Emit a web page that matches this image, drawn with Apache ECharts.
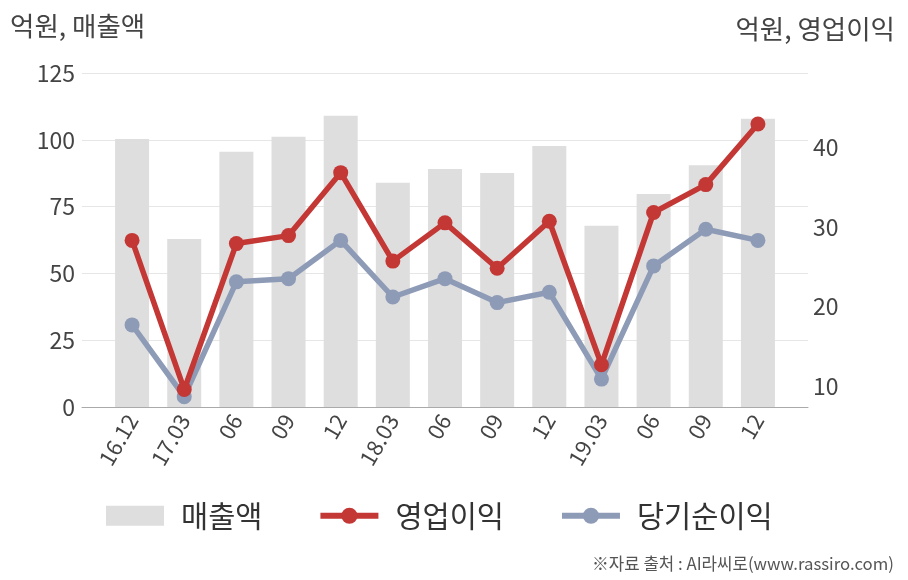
<!DOCTYPE html>
<html><head><meta charset="utf-8">
<script src="https://cdn.jsdelivr.net/npm/echarts@6/dist/echarts.min.js"></script>
<style>html,body{margin:0;padding:0;background:#fff}#c{width:908px;height:580px}</style>
</head><body><div id="c"></div>
<script>
const categories = ['16.12','17.03','06','09','12','18.03','06','09','12','19.03','06','09','12'];
const sales = [100.3, 62.9, 95.5, 101.1, 109, 83.9, 89.1, 87.6, 97.7, 67.8, 79.7, 90.5, 107.9];
const opProfit = [28.3, 9.6, 27.9, 28.9, 36.8, 25.7, 30.5, 24.8, 30.7, 12.7, 31.8, 35.3, 42.9];
const netProfit = [17.7, 8.7, 23.1, 23.5, 28.3, 21.2, 23.5, 20.5, 21.8, 10.9, 25.1, 29.7, 28.3];
const leftTicks = [0, 25, 50, 75, 100, 125];
const rightTicks = [10, 20, 30, 40];

const FONT = '"Noto Sans CJK KR", "Noto Sans", sans-serif';
const RED = '#c33735', BLUE = '#8e9bb7';
const pair = arr => arr.map((v, i) => [i, v]);
const chart = echarts.init(document.getElementById('c'));
chart.setOption({
  animation: false,
  textStyle: { fontFamily: FONT },
  grid: { left: 82, right: 100, top: 73, bottom: 173 },
  graphic: [
    { type: 'text', left: 10, top: 13, style: { text: '억원, 매출액', font: '26.5px ' + FONT, fill: '#444' } },
    { type: 'text', right: 13, top: 16, style: { text: '억원, 영업이익', font: '26.5px ' + FONT, fill: '#444' } },
    { type: 'text', right: 14, top: 555, style: { text: '※자료 출처 : AI라씨로(www.rassiro.com)', font: '16.8px ' + FONT, fill: '#555' } }
  ],
  legend: {
    left: 101, top: 496, itemWidth: 58, itemHeight: 20, itemGap: 55,
    textStyle: { fontSize: 29.5, color: '#333', fontFamily: FONT, padding: [0, 0, 0, 12] },
    data: [
      { name: '매출액', icon: 'rect' },
      { name: '영업이익', lineStyle: { width: 6 }, itemStyle: { color: RED } },
      { name: '당기순이익', lineStyle: { width: 6 }, itemStyle: { color: BLUE } }
    ]
  },
  xAxis: {
    type: 'value', min: -0.96, max: 12.96,
    splitLine: { show: false },
    axisTick: { show: false },
    axisLine: { show: true, onZero: false, lineStyle: { color: '#aaa', width: 1 } },
    axisLabel: {
      customValues: categories.map((c, i) => i),
      formatter: v => categories[Math.round(v)],
      rotate: 60, fontSize: 22, color: '#444', margin: 9, fontFamily: FONT
    }
  },
  yAxis: [
    {
      type: 'value', min: 0, max: 125, interval: 25,
      axisLine: { show: false }, axisTick: { show: false },
      splitLine: { lineStyle: { color: '#e6e6e6', width: 1 } },
      axisLabel: { fontSize: 23, color: '#444', margin: 7, fontFamily: FONT, customValues: leftTicks }
    },
    {
      type: 'value', min: 7.4, max: 49.3,
      axisLine: { show: false }, axisTick: { show: false },
      splitLine: { show: false },
      axisLabel: { fontSize: 23, color: '#444', margin: 5, fontFamily: FONT, customValues: rightTicks }
    }
  ],
  series: [
    { name: '매출액', type: 'bar', yAxisIndex: 0, data: pair(sales), barWidth: 34, z: 1,
      itemStyle: { color: '#dedede' } },
    { name: '당기순이익', type: 'line', yAxisIndex: 1, data: pair(netProfit), z: 3,
      symbol: 'circle', symbolSize: 15, lineStyle: { color: BLUE, width: 5.5 },
      itemStyle: { color: BLUE } },
    { name: '영업이익', type: 'line', yAxisIndex: 1, data: pair(opProfit), z: 4,
      symbol: 'circle', symbolSize: 15, lineStyle: { color: RED, width: 5.5 },
      itemStyle: { color: RED } }
  ]
});
</script></body></html>
